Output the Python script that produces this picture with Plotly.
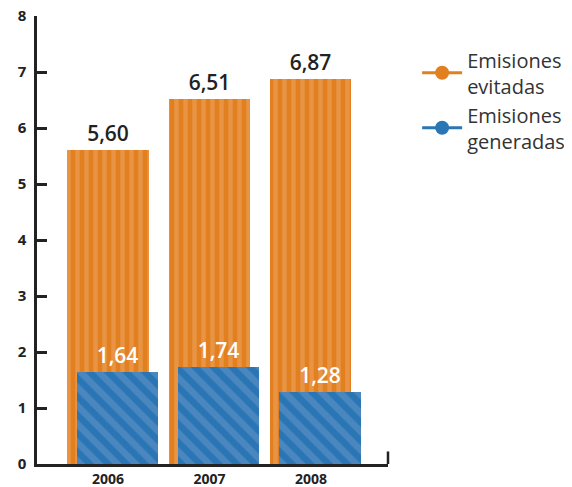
import plotly.graph_objects as go

years = ["2006", "2007", "2008"]
evitadas = [5.60, 6.51, 6.87]
generadas = [1.64, 1.74, 1.28]
yticks = [0, 1, 2, 3, 4, 5, 6, 7, 8]

pos = list(range(len(years)))

ORANGE = "#E2801F"
ORANGE_L = "#EDA86A"
BLUE = "#2A76B5"
BLUE_L = "#6C97CA"
INK = "#222222"

fig = go.Figure()
fig.add_trace(go.Bar(
    x=pos, y=evitadas, width=0.8, offset=-0.4,
    marker=dict(color=ORANGE, line=dict(width=0),
                pattern=dict(shape="|", fgcolor=ORANGE_L, bgcolor=ORANGE, size=9, solidity=0.5)),
    texttemplate="%{y:.2f}", textposition="outside",
    textfont=dict(family="Open Sans", size=21, color=INK, weight=600),
    cliponaxis=False, showlegend=False,
))
fig.add_trace(go.Bar(
    x=pos, y=generadas, width=0.8, offset=-0.31,
    marker=dict(color=BLUE, line=dict(width=0),
                pattern=dict(shape="\\", fgcolor=BLUE_L, bgcolor=BLUE, size=13, solidity=0.5)),
    texttemplate="%{y:.2f}", textposition="outside",
    textfont=dict(family="Open Sans", size=21, color="white", weight=600),
    cliponaxis=False, showlegend=False,
))
fig.add_trace(go.Scatter(x=[None], y=[None], mode="lines+markers", name="Emisiones<br>evitadas",
                         line=dict(color=ORANGE, width=3), marker=dict(color=ORANGE, size=14)))
fig.add_trace(go.Scatter(x=[None], y=[None], mode="lines+markers", name="Emisiones<br>generadas",
                         line=dict(color=BLUE, width=3), marker=dict(color=BLUE, size=14)))

fig.update_layout(
    width=564, height=479,
    margin=dict(l=29, r=184, t=8, b=23, autoexpand=False),
    plot_bgcolor="white", paper_bgcolor="white",
    barmode="overlay", bargap=0,
    separators=",.",
    uniformtext=dict(minsize=8, mode="show"),
    font=dict(family="Open Sans", color=INK),
    legend=dict(x=1.083, y=0.946, xanchor="left", yanchor="top",
                font=dict(family="Open Sans", size=20, color="#333333"),
                itemwidth=40, tracegroupgap=6, bgcolor="rgba(0,0,0,0)"),
    xaxis=dict(range=[-0.7, 2.76], tickmode="array", tickvals=pos, ticktext=years,
               showline=True, linecolor=INK, linewidth=2.5, ticks="", showgrid=False,
               zeroline=False, automargin=False, ticklabeloverflow="allow",
               tickfont=dict(size=14, weight="bold", color=INK), fixedrange=True),
    yaxis=dict(range=[0, 8], tickvals=yticks, showline=True, linecolor=INK, linewidth=2.5,
               ticks="inside", ticklen=10, tickwidth=2.5, tickcolor=INK, showgrid=False,
               zeroline=False, ticklabelstandoff=5, automargin=False, ticklabeloverflow="allow",
               tickfont=dict(size=15, weight="bold", color=INK), fixedrange=True),
    shapes=[dict(type="line", xref="paper", yref="paper", x0=1, x1=1, y0=0, y1=0.028,
                 line=dict(color=INK, width=2.5))],
)

fig.write_html("out.html")
